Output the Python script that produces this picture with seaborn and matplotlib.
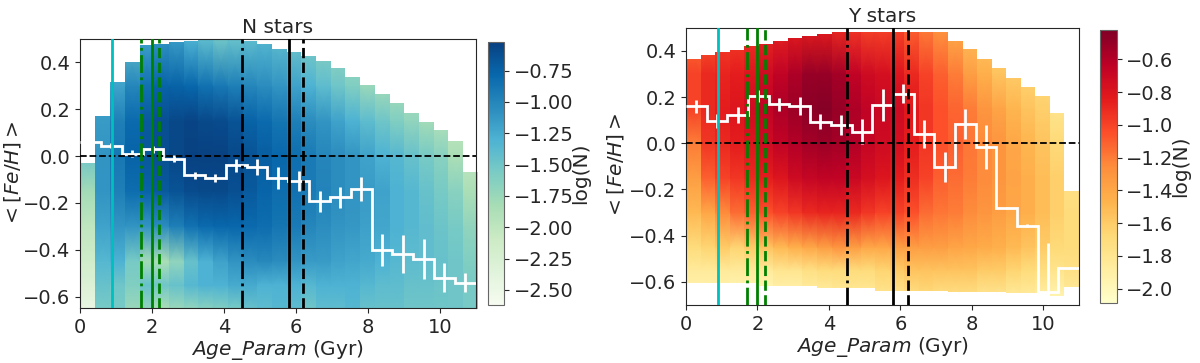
import numpy as np
import matplotlib
matplotlib.use("Agg")
import matplotlib.pyplot as plt
from matplotlib.patches import Rectangle
from matplotlib.colors import Normalize
from matplotlib.cm import ScalarMappable
from matplotlib.ticker import MultipleLocator
import seaborn as sns

sns.set_style("ticks")
plt.rcParams['font.family'] = ['DejaVu Sans']
plt.rcParams['xtick.labelsize'] = 14
plt.rcParams['ytick.labelsize'] = 14

# ---- mean [Fe/H] per age bin (white steps) ----
age_edges = np.linspace(0, 11, 20)
age_mid = 0.5 * (age_edges[:-1] + age_edges[1:])

n_feh = [0.06, 0.045, 0.01, 0.03, -0.011, -0.083, -0.094, -0.04, -0.047, -0.094,
         -0.108, -0.194, -0.175, -0.14, -0.40, -0.417, -0.44, -0.52, -0.54]
n_err = [0.02, 0.01, 0.015, 0.015, 0.016, 0.017, 0.016, 0.027, 0.033, 0.048,
         0.043, 0.044, 0.045, 0.05, 0.069, 0.082, 0.084, 0.062, 0.04]

y_feh = [0.16, 0.097, 0.122, 0.205, 0.168, 0.16, 0.093, 0.079, 0.05, 0.165,
         0.215, 0.04, -0.103, 0.082, -0.017, -0.28, -0.356, -0.645, -0.54]
y_err = [0.027, 0.03, 0.036, 0.025, 0.029, 0.038, 0.032, 0.042, 0.055, 0.068,
         0.041, 0.061, 0.063, 0.065, 0.095, 0.005, 0.005, 0.215, 0.005]

# ---- log(N) density columns ----
n_col_edges = np.linspace(0.02, 11.06, 28)
y_col_edges = np.linspace(0, 11, 28)

n_top = [-0.03, 0.17, 0.315, 0.40, 0.476, 0.48, 0.485, 0.49, 0.495, 0.5, 0.5, 0.49, 0.48,
         0.459, 0.444, 0.427, 0.405, 0.376, 0.338, 0.302, 0.264, 0.228, 0.184, 0.145,
         0.11, 0.066, -0.066]
n_bot = [-0.7] * 27

y_top = [0.366, 0.384, 0.394, 0.404, 0.42, 0.43, 0.444, 0.454, 0.462, 0.473, 0.48, 0.483,
         0.483, 0.483, 0.483, 0.483, 0.483, 0.483, 0.444, 0.406, 0.366, 0.325, 0.284,
         0.244, 0.204, 0.129, -0.208]
y_bot = [-0.606, -0.606, -0.606, -0.606, -0.606, -0.616, -0.616, -0.616, -0.616, -0.627,
         -0.627, -0.627, -0.627, -0.638, -0.638, -0.638, -0.638, -0.638, -0.642, -0.642,
         -0.642, -0.642, -0.649, -0.649, -0.649, -0.66, -0.624]

n_nodes = [-0.65, -0.55, -0.45, -0.3, -0.15, 0.0, 0.15, 0.3, 0.5]
n_logN = [
    [-2.45, -2.3, -2.15, -2.0, -1.8, -1.5, -1.5, -1.5, -1.5],
    [-1.55, -1.45, -1.35, -1.2, -1.1, -1.1, -1.15, -1.2, -1.2],
    [-1.55, -1.5, -1.3, -1.1, -0.95, -0.9, -0.95, -1.2, -1.35],
    [-1.75, -1.6, -1.55, -1.1, -0.82, -0.75, -0.8, -1.0, -1.45],
    [-1.7, -1.45, -1.8, -1.1, -0.75, -0.68, -0.7, -0.85, -1.2],
    [-1.85, -1.5, -1.85, -1.05, -0.7, -0.62, -0.62, -0.75, -1.1],
    [-1.75, -1.45, -1.7, -0.95, -0.65, -0.57, -0.57, -0.75, -1.15],
    [-1.7, -1.35, -1.45, -0.85, -0.6, -0.53, -0.55, -0.78, -1.3],
    [-1.65, -1.3, -1.3, -0.8, -0.58, -0.53, -0.58, -0.85, -1.4],
    [-1.6, -1.3, -1.2, -0.78, -0.58, -0.53, -0.6, -0.9, -1.5],
    [-1.55, -1.25, -1.1, -0.78, -0.62, -0.58, -0.65, -0.95, -1.45],
    [-1.45, -1.25, -1.05, -0.8, -0.7, -0.65, -0.75, -1.0, -1.4],
    [-1.4, -1.3, -1.02, -0.82, -0.76, -0.72, -0.8, -1.05, -1.35],
    [-1.35, -1.3, -1.05, -0.88, -0.82, -0.78, -0.88, -1.1, -1.4],
    [-1.4, -1.3, -1.1, -0.92, -0.86, -0.83, -0.95, -1.2, -1.5],
    [-1.5, -1.35, -1.15, -1.0, -0.92, -0.92, -1.05, -1.3, -1.6],
    [-1.4, -1.3, -1.15, -1.05, -0.98, -1.0, -1.1, -1.4, -1.7],
    [-1.4, -1.3, -1.2, -1.1, -1.05, -1.05, -1.2, -1.5, -1.75],
    [-1.35, -1.3, -1.22, -1.12, -1.1, -1.1, -1.3, -1.6, -1.8],
    [-1.45, -1.35, -1.25, -1.18, -1.15, -1.2, -1.4, -1.75, -1.85],
    [-1.45, -1.4, -1.3, -1.22, -1.2, -1.3, -1.5, -1.8, -1.9],
    [-1.45, -1.4, -1.35, -1.3, -1.3, -1.35, -1.6, -1.85, -1.9],
    [-1.5, -1.45, -1.4, -1.35, -1.35, -1.45, -1.7, -1.9, -1.95],
    [-1.5, -1.45, -1.42, -1.42, -1.45, -1.55, -1.8, -1.95, -2.0],
    [-1.5, -1.48, -1.45, -1.48, -1.55, -1.65, -1.9, -2.0, -2.0],
    [-1.5, -1.5, -1.5, -1.55, -1.65, -1.85, -2.0, -2.0, -2.0],
    [-1.55, -1.55, -1.6, -1.7, -1.85, -2.0, -2.0, -2.0, -2.0],
]

y_nodes = [-0.66, -0.55, -0.45, -0.3, -0.15, 0.0, 0.15, 0.3, 0.5]
y_logN = [
    [-1.95, -1.85, -1.7, -1.5, -1.35, -1.2, -1.0, -1.0, -1.2],
    [-1.95, -1.85, -1.65, -1.4, -1.1, -0.95, -0.9, -0.9, -1.1],
    [-1.95, -1.85, -1.6, -1.25, -1.0, -0.9, -0.85, -0.88, -1.0],
    [-2.0, -1.85, -1.65, -1.15, -0.95, -0.85, -0.8, -0.85, -1.0],
    [-2.0, -1.85, -1.6, -1.1, -0.9, -0.8, -0.72, -0.8, -0.95],
    [-2.0, -1.85, -1.55, -1.05, -0.85, -0.72, -0.65, -0.72, -0.9],
    [-1.95, -1.8, -1.5, -1.0, -0.8, -0.65, -0.58, -0.65, -0.88],
    [-1.95, -1.8, -1.45, -0.95, -0.72, -0.6, -0.52, -0.58, -0.85],
    [-1.9, -1.75, -1.4, -0.9, -0.68, -0.55, -0.46, -0.5, -0.85],
    [-1.9, -1.7, -1.35, -0.88, -0.65, -0.52, -0.44, -0.5, -0.85],
    [-1.85, -1.7, -1.3, -0.88, -0.65, -0.55, -0.5, -0.55, -0.9],
    [-1.85, -1.7, -1.35, -0.9, -0.7, -0.6, -0.58, -0.65, -0.95],
    [-1.85, -1.7, -1.4, -0.95, -0.75, -0.68, -0.65, -0.72, -1.0],
    [-1.8, -1.65, -1.4, -1.0, -0.8, -0.72, -0.7, -0.75, -1.0],
    [-1.8, -1.6, -1.35, -1.0, -0.85, -0.75, -0.72, -0.8, -1.0],
    [-1.75, -1.55, -1.35, -1.05, -0.92, -0.85, -0.82, -0.9, -1.1],
    [-1.7, -1.55, -1.35, -1.15, -1.0, -0.95, -0.95, -1.0, -1.2],
    [-1.75, -1.55, -1.35, -1.18, -1.1, -1.05, -1.05, -1.1, -1.3],
    [-1.75, -1.55, -1.38, -1.2, -1.15, -1.1, -1.12, -1.2, -1.45],
    [-1.75, -1.55, -1.4, -1.25, -1.2, -1.18, -1.2, -1.35, -1.55],
    [-1.8, -1.6, -1.42, -1.3, -1.25, -1.25, -1.3, -1.45, -1.6],
    [-1.8, -1.6, -1.45, -1.35, -1.3, -1.3, -1.38, -1.55, -1.65],
    [-1.85, -1.65, -1.5, -1.4, -1.38, -1.4, -1.48, -1.6, -1.7],
    [-1.85, -1.7, -1.55, -1.45, -1.45, -1.48, -1.55, -1.65, -1.75],
    [-1.9, -1.72, -1.6, -1.52, -1.52, -1.55, -1.62, -1.7, -1.8],
    [-1.95, -1.78, -1.68, -1.62, -1.62, -1.68, -1.78, -1.85, -1.9],
    [-1.85, -1.75, -1.7, -1.7, -1.75, -1.8, -1.85, -1.9, -1.9],
]

# reference ages (Gyr) marked with vertical lines
vline_ages = [0.9, 1.7, 2.0, 2.2, 4.5, 5.8, 6.2]
vline_colors = ['c', 'g', 'g', 'g', 'k', 'k', 'k']
vline_styles = ['-', '-.', '-', '--', '-.', '-', '--']


def draw_density(ax, edges, bot, top, nodes, grid, cmap, norm):
    # one gouraud-shaded column per age bin, clipped to the populated range
    for k, col in enumerate(grid):
        x0, x1 = edges[k], edges[k + 1]
        X = np.array([[x0, x1] for _ in nodes])
        Y = np.array([[v, v] for v in nodes])
        C = np.array([[c, c] for c in col])
        mesh = ax.pcolormesh(X, Y, C, shading='gouraud', cmap=cmap, norm=norm, zorder=1)
        clip = Rectangle((x0, bot[k]), x1 - x0, top[k] - bot[k], transform=ax.transData)
        mesh.set_clip_path(clip)


def decorate(ax, feh, err, title, ylim, ylab_x):
    ax.stairs(feh, age_edges, baseline=None, color='w', lw=2, zorder=3)
    ax.errorbar(age_mid, feh, yerr=err, fmt='none', ecolor='w', elinewidth=2, zorder=3)
    ax.axhline(0, color='k', ls='--', lw=1.3, zorder=4)
    for a, c, s in zip(vline_ages, vline_colors, vline_styles):
        ax.axvline(a, color=c, ls=s, lw=2, zorder=4)
    ax.set_xlim(0, 11)
    ax.set_ylim(*ylim)
    ax.set_title(title, fontsize=14.5, pad=4)
    ax.set_xlabel(r'$Age\_Param$ (Gyr)', fontsize=14.5, labelpad=1)
    ax.set_ylabel(r'$<[Fe/H]>$', fontsize=14.5)
    ax.yaxis.set_label_coords(ylab_x, 0.5)


fig = plt.figure(figsize=(12, 3.63), dpi=100)
ax1 = fig.add_axes([0.0667, 0.1507, 0.3297, 0.742])
cax1 = fig.add_axes([0.4069, 0.1598, 0.0133, 0.7253])
ax2 = fig.add_axes([0.5717, 0.1598, 0.3275, 0.7639])
cax2 = fig.add_axes([0.9167, 0.1645, 0.0139, 0.7529])

cmap_n = sns.color_palette("GnBu", as_cmap=True)
cmap_y = sns.color_palette("YlOrRd", as_cmap=True)
norm_n = Normalize(vmin=-2.62, vmax=-0.52)
norm_y = Normalize(vmin=-2.09, vmax=-0.42)

draw_density(ax1, n_col_edges, n_bot, n_top, n_nodes, n_logN, cmap_n, norm_n)
draw_density(ax2, y_col_edges, y_bot, y_top, y_nodes, y_logN, cmap_y, norm_y)

decorate(ax1, n_feh, n_err, 'N stars', (-0.65, 0.5), -0.145)
decorate(ax2, y_feh, y_err, 'Y stars', (-0.7, 0.5), -0.152)

for cax, cmap, norm, step in [(cax1, cmap_n, norm_n, 0.25), (cax2, cmap_y, norm_y, 0.2)]:
    cb = fig.colorbar(ScalarMappable(norm=norm, cmap=cmap), cax=cax)
    cb.ax.yaxis.set_major_locator(MultipleLocator(step))
    cb.set_label('log(N)', fontsize=14.5, labelpad=-2)
    cb.outline.set_edgecolor('0.4')

fig.savefig("out.png", dpi=100)
